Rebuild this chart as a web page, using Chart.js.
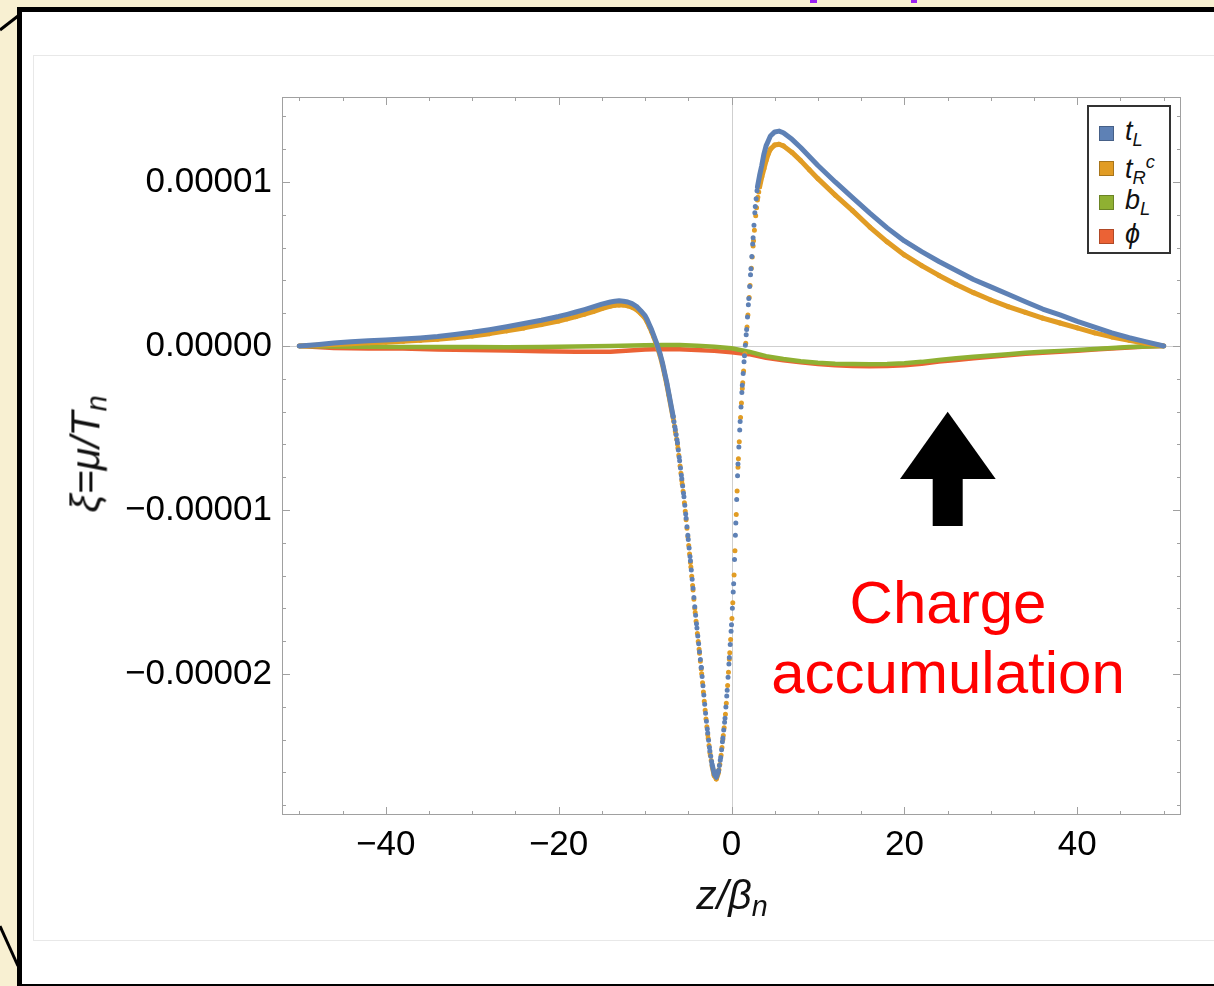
<!DOCTYPE html>
<html>
<head>
<meta charset="utf-8">
<script src="https://cdn.jsdelivr.net/npm/chart.js@4.4.1/dist/chart.umd.min.js"></script>
<style>
  html, body { margin:0; padding:0; }
  body { width:1214px; height:986px; overflow:hidden; background:#f8f0d2; font-family:"Liberation Sans", Arial, sans-serif; }
  #page { position:relative; width:1214px; height:986px; overflow:hidden; }
  .bit { position:absolute; top:0; height:3px; background:#9b22f2; }
  #frame { position:absolute; left:17px; top:7px; width:1300px; height:982px; box-sizing:border-box; border:5px solid #000; background:#fff; }
  #panel { position:absolute; left:33px; top:55px; width:1300px; height:886px; box-sizing:border-box; border:1px solid #e8e8e8; background:#fff; }
  #chart { position:absolute; left:0; top:0; }
  .lab { position:absolute; font-style:italic; color:#111; white-space:nowrap; }
  .lab sub { font-size:70%; vertical-align:-0.25em; }
  #ylab { left:88px; top:454px; font-size:41px; transform:translate(-50%,-50%) rotate(-90deg); }
  #xlab { left:732px; top:872px; font-size:41px; transform:translateX(-50%); }
  #legend { position:absolute; left:1087px; top:105px; width:84px; height:149px; box-sizing:border-box; border:2px solid #333; background:#fff; }
  .item { position:absolute; left:0; height:30px; font-size:27px; font-style:italic; color:#111; }
  .item i { position:absolute; left:10px; top:8px; width:15px; height:15px; box-sizing:border-box; border:1px solid rgba(0,0,0,0.25); }
  .item span { position:absolute; left:36px; top:-2px; white-space:nowrap; }
  .item sub { font-size:68%; vertical-align:-0.3em; }
  .item sup { font-size:68%; vertical-align:0.55em; }
  #note { position:absolute; left:948px; top:568px; transform:translateX(-50%); color:#ff0000; font-size:60px; line-height:70px; text-align:center; white-space:nowrap; }
</style>
</head>
<body>
<div id="page">
  <div class="bit" style="left:810px;width:7px"></div>
  <div class="bit" style="left:911px;width:6px"></div>
  <div id="frame"></div>
  <svg style="position:absolute;left:0;top:0" width="24" height="986">
    <line x1="0" y1="30" x2="18" y2="16" stroke="#000" stroke-width="3"/>
    <line x1="0" y1="926" x2="18" y2="966" stroke="#000" stroke-width="3"/>
  </svg>
  <div id="panel"></div>
  <canvas id="chart" width="1214" height="986"></canvas>
  <div id="ylab" class="lab">ξ=μ/T<sub>n</sub></div>
  <div id="xlab" class="lab">z/β<sub>n</sub></div>
  <div id="legend">
    <div class="item" style="top:11px"><i style="background:#5e81b5"></i><span>t<sub>L</sub></span></div>
    <div class="item" style="top:46px"><i style="background:#e19c24"></i><span>t<sub>R</sub><sup>c</sup></span></div>
    <div class="item" style="top:80px"><i style="background:#8fb032"></i><span>b<sub>L</sub></span></div>
    <div class="item" style="top:114px"><i style="background:#eb6235"></i><span>ϕ</span></div>
  </div>
  <svg style="position:absolute;left:895px;top:405px" width="106" height="126">
    <polygon points="52.7,6.7 5,74 100.7,74" fill="#000"/>
    <rect x="37.7" y="73" width="30" height="48" fill="#000"/>
  </svg>
  <div id="note">Charge<br>accumulation</div>
</div>
<script>
// values; y in units of 1e-5
const zT = [-50,-48,-46,-44,-42,-40,-38,-36,-34,-32,-30,-28,-26,-24,-22,-20,-19,-18,-17,-16,-15,-14,-13.5,-13,-12.5,-12,-11.5,-11,-10.5,
  -10,-9.75,-9.5,-9.25,-9,-8.75,-8.5,-8.25,-8,-7.75,-7.5,-7.25,-7,-6.75,-6.5,-6.25,-6,-5.75,-5.5,-5.25,-5,-4.75,-4.5,-4.25,-4,
  -3.75,-3.5,-3.25,-3,-2.75,-2.5,-2.25,-2,-1.75,-1.5,-1.25,-1,-0.75,-0.5,-0.25,0,0.25,0.5,0.75,1,1.25,1.5,1.75,2,2.25,2.5,2.75,
  3,3.25,3.5,3.75,4,4.25,4.5,
  5,5.5,6,7,8,9,10,12,14,16,18,20,22,24,26,28,30,32,34,36,38,40,42,44,46,48,50];

const tL = [0,0.008,0.018,0.025,0.031,0.036,0.042,0.049,0.058,0.070,0.083,0.099,0.117,0.137,0.157,0.180,0.193,0.207,0.222,0.238,0.255,0.268,0.273,0.275,0.273,0.268,0.258,0.242,0.215,
  0.185,0.16,0.13,0.10,0.065,0.03,-0.01,-0.05,-0.10,-0.16,-0.22,-0.29,-0.36,-0.43,-0.51,-0.59,-0.70,-0.81,-0.92,-1.05,-1.18,-1.31,-1.45,-1.59,-1.72,
  -1.84,-1.96,-2.10,-2.24,-2.36,-2.47,-2.55,-2.61,-2.63,-2.59,-2.51,-2.39,-2.27,-2.10,-1.90,-1.70,-1.45,-1.08,-0.72,-0.46,-0.24,-0.06,0.10,0.29,0.47,0.66,0.85,
  0.97,1.04,1.10,1.17,1.22,1.25,1.28,
  1.305,1.31,1.30,1.26,1.21,1.155,1.10,1.00,0.905,0.81,0.72,0.64,0.575,0.515,0.46,0.405,0.36,0.315,0.27,0.225,0.19,0.15,0.115,0.08,0.05,0.025,0];

const tRc = [0,0.004,0.009,0.014,0.019,0.023,0.028,0.034,0.041,0.050,0.061,0.075,0.092,0.110,0.130,0.152,0.165,0.179,0.194,0.210,0.228,0.243,0.248,0.250,0.249,0.245,0.236,0.222,0.198,
  0.17,0.146,0.118,0.088,0.055,0.02,-0.018,-0.06,-0.11,-0.17,-0.23,-0.30,-0.37,-0.44,-0.52,-0.60,-0.71,-0.82,-0.93,-1.06,-1.19,-1.32,-1.46,-1.60,-1.73,
  -1.85,-1.97,-2.11,-2.25,-2.37,-2.48,-2.56,-2.62,-2.64,-2.60,-2.52,-2.40,-2.28,-2.11,-1.91,-1.71,-1.47,-1.10,-0.74,-0.48,-0.26,-0.08,0.08,0.26,0.44,0.61,0.77,
  0.89,0.97,1.03,1.08,1.13,1.17,1.20,
  1.225,1.23,1.22,1.18,1.13,1.075,1.02,0.92,0.825,0.725,0.635,0.555,0.49,0.43,0.375,0.325,0.28,0.24,0.205,0.17,0.14,0.11,0.08,0.055,0.035,0.015,0];

const zB = [-50,-46,-42,-38,-34,-30,-26,-22,-18,-14,-10,-8,-6,-4,-2,0,2,4,6,8,10,12,14,16,18,20,22,24,26,28,30,32,34,36,38,40,42,44,46,48,50];
const bL = [0,-0.003,-0.005,-0.006,-0.006,-0.007,-0.008,-0.006,-0.003,0.0,0.004,0.006,0.006,0.002,-0.005,
  -0.014,-0.035,-0.062,-0.08,-0.093,-0.102,-0.108,-0.11,-0.111,-0.11,-0.106,-0.097,-0.085,-0.075,-0.066,-0.058,-0.05,-0.042,-0.035,-0.03,-0.024,-0.018,-0.012,-0.007,-0.003,0];
const phi = [0,-0.012,-0.015,-0.016,-0.022,-0.025,-0.027,-0.033,-0.036,-0.036,-0.022,-0.018,-0.02,-0.025,-0.03,
  -0.038,-0.05,-0.072,-0.088,-0.10,-0.11,-0.118,-0.122,-0.123,-0.122,-0.118,-0.108,-0.095,-0.085,-0.075,-0.066,-0.057,-0.048,-0.041,-0.036,-0.029,-0.022,-0.015,-0.009,-0.004,0];

const xTickVals = [-40,-20,0,20,40];
const xTickLabels = ['−40','−20','0','20','40'];
const xMinorVals = [-50,-45,-35,-30,-25,-15,-10,-5,5,10,15,25,30,35,45,50];
const yTickVals = [-2,-1,0,1];
const yTickLabels = ['−0.00002','−0.00001','0.00000','0.00001'];
const yMinorVals = [-2.8,-2.6,-2.4,-2.2,-1.8,-1.6,-1.4,-1.2,-0.8,-0.6,-0.4,-0.2,0.2,0.4,0.6,0.8,1.2,1.4];

const X_MIN = -52, X_MAX = 52, Y_MIN = -2.86, Y_MAX = 1.518;
const COLORS = { tL:'#5e81b5', tRc:'#e19c24', bL:'#8fb032', phi:'#eb6235' };

function pts(xs, ys){ return xs.map((x, i) => ({ x, y: ys[i] })); }

// the source was sampled every 0.1 in z: where the curve is steep the samples show as separate dots
const SAMPLE_DZ = 0.1;
function dotGap(ctx){
  const dx = Math.abs(ctx.p1.x - ctx.p0.x);
  if (!dx) return 0;
  const pxPerZ = ctx.chart.chartArea.width / (X_MAX - X_MIN);
  return Math.hypot(dx, ctx.p1.y - ctx.p0.y) * SAMPLE_DZ * pxPerZ / dx;
}
function dotDash(ctx){ const g = dotGap(ctx); return g > 5 ? [0, g] : undefined; }

function series(label, xs, ys, color, shift, width){
  return {
    label, data: pts(xs, ys), borderColor: color, backgroundColor: color,
    showLine: true, borderWidth: width, borderCapStyle: 'round', borderJoinStyle: 'round',
    pointRadius: 0, pointHoverRadius: 0, tension: 0,
    segment: {
      borderDash: dotDash,
      borderDashOffset: ctx => shift ? dotGap(ctx) / 2 : 0
    }
  };
}

const frameTicks = {
  id: 'frameTicks',
  beforeDatasetsDraw(chart){
    const { ctx, chartArea: a, scales: { x, y } } = chart;
    ctx.save();
    ctx.strokeStyle = '#cfcfcf'; ctx.lineWidth = 1;
    const x0 = Math.round(x.getPixelForValue(0)) + 0.5, y0 = Math.round(y.getPixelForValue(0)) + 0.5;
    ctx.beginPath();
    ctx.moveTo(x0, a.top); ctx.lineTo(x0, a.bottom);
    ctx.moveTo(a.left, y0); ctx.lineTo(a.right, y0);
    ctx.stroke();
    ctx.restore();
  },
  afterDatasetsDraw(chart){
    const { ctx, chartArea: a, scales: { x, y } } = chart;
    ctx.save();
    ctx.strokeStyle = '#a0a0a0'; ctx.lineWidth = 1;
    ctx.strokeRect(a.left + 0.5, a.top + 0.5, a.right - a.left - 1, a.bottom - a.top - 1);
    ctx.beginPath();
    const xt = (v, len) => {
      const px = Math.round(x.getPixelForValue(v)) + 0.5;
      ctx.moveTo(px, a.bottom); ctx.lineTo(px, a.bottom - len);
      ctx.moveTo(px, a.top); ctx.lineTo(px, a.top + len);
    };
    const yt = (v, len) => {
      const py = Math.round(y.getPixelForValue(v)) + 0.5;
      ctx.moveTo(a.left, py); ctx.lineTo(a.left + len, py);
      ctx.moveTo(a.right, py); ctx.lineTo(a.right - len, py);
    };
    xTickVals.forEach(v => xt(v, 8)); xMinorVals.forEach(v => xt(v, 4));
    yTickVals.forEach(v => yt(v, 8)); yMinorVals.forEach(v => yt(v, 4));
    ctx.stroke();
    ctx.restore();
  }
};

new Chart(document.getElementById('chart'), {
  type: 'scatter',
  data: {
    datasets: [
      series('tL', zT, tL, COLORS.tL, false, 5),
      series('tRc', zT, tRc, COLORS.tRc, true, 5),
      series('bL', zB, bL, COLORS.bL, false, 4.5),
      series('phi', zB, phi, COLORS.phi, false, 4.5)
    ]
  },
  options: {
    responsive: false, animation: false, devicePixelRatio: 1,
    layout: { padding: { left: 0, top: 97, right: 33, bottom: 0 } },
    plugins: { legend: { display: false }, tooltip: { enabled: false } },
    scales: {
      x: {
        type: 'linear', min: X_MIN, max: X_MAX,
        grid: { display: false, drawTicks: false }, border: { display: false },
        afterBuildTicks: s => { s.ticks = xTickVals.map(v => ({ value: v })); },
        afterFit: s => { s.height = 171; },
        ticks: { autoSkip: false, maxRotation: 0, padding: 9, color: '#000',
          font: { family: '"Liberation Sans", Arial, sans-serif', size: 35 },
          callback: v => xTickLabels[xTickVals.indexOf(v)] }
      },
      y: {
        type: 'linear', min: Y_MIN, max: Y_MAX,
        grid: { display: false, drawTicks: false }, border: { display: false },
        afterBuildTicks: s => { s.ticks = yTickVals.map(v => ({ value: v })); },
        afterFit: s => { s.width = 282; },
        ticks: { autoSkip: false, padding: 10, color: '#000',
          font: { family: '"Liberation Sans", Arial, sans-serif', size: 35 },
          callback: v => yTickLabels[yTickVals.indexOf(v)] }
      }
    }
  },
  plugins: [frameTicks]
});
</script>
</body>
</html>
